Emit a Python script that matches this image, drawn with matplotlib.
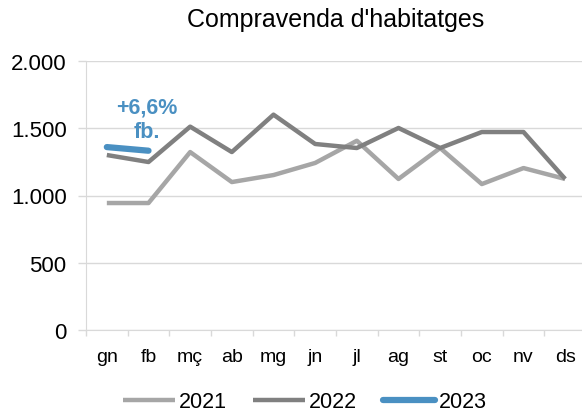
import matplotlib.pyplot as plt
import numpy as np

plt.rcParams['font.family'] = ['Liberation Sans', 'DejaVu Sans']

mesos = ['gn', 'fb', 'mç', 'ab', 'mg', 'jn', 'jl', 'ag', 'st', 'oc', 'nv', 'ds']
v2021 = [944, 944, 1323, 1100, 1152, 1242, 1407, 1123, 1353, 1085, 1204, 1123]
v2022 = [1301, 1249, 1512, 1323, 1601, 1383, 1353, 1502, 1353, 1472, 1472, 1123]
v2023 = [1360, 1333]

c21 = '#a6a6a6'
c22 = '#808080'
c23 = '#4a90c2'
grid = '#d9d9d9'

fig = plt.figure(figsize=(5.82, 4.14), dpi=100)
ax = fig.add_axes([86/582, 1-331/414, 500/582, 269/414])

x = np.arange(len(mesos))
ax.plot(x, v2021, color=c21, lw=3.2, label='2021', solid_capstyle='butt')
ax.plot(x, v2022, color=c22, lw=3.2, label='2022', solid_capstyle='butt')
ax.plot(x[:len(v2023)], v2023, color=c23, lw=4.5, label='2023', solid_capstyle='round')

# etiqueta de variació
ax.text(0.95, 1569, '+6,6%\nfb.', color=c23, fontsize=15.5, fontweight='bold',
        ha='center', va='center', linespacing=1.2)

ax.set_xlim(-0.5, 11.5)
ax.set_ylim(0, 2000)
ax.set_yticks([0, 500, 1000, 1500, 2000])
ax.set_yticklabels(['0', '500', '1.000', '1.500', '2.000'], fontsize=16)
ax.set_xticks(x)
ax.set_xticklabels(mesos, fontsize=14)
ax.set_xticks(np.arange(-0.5, 12, 1), minor=True)
ax.tick_params(axis='x', which='major', length=0, pad=13)
ax.tick_params(axis='x', which='minor', length=4.5, color=grid, width=1)
ax.tick_params(axis='y', length=6, color=grid, width=1, pad=8)
ax.yaxis.grid(True, color=grid, lw=1)
ax.set_axisbelow(True)
for s in ['top', 'right']:
    ax.spines[s].set_visible(False)
ax.spines['left'].set_color(grid)
ax.spines['bottom'].set_color(grid)

fig.text(336/582, 1-20/414, "Compravenda d'habitatges", fontsize=18, ha='center', va='center')

fig.legend(loc='center', bbox_to_anchor=(305/582, 1-403/414), ncol=3, frameon=False,
           fontsize=15.5, handlelength=2.4, handletextpad=0.2, columnspacing=1.2,
           borderpad=0)

fig.savefig('out.png', dpi=100)
